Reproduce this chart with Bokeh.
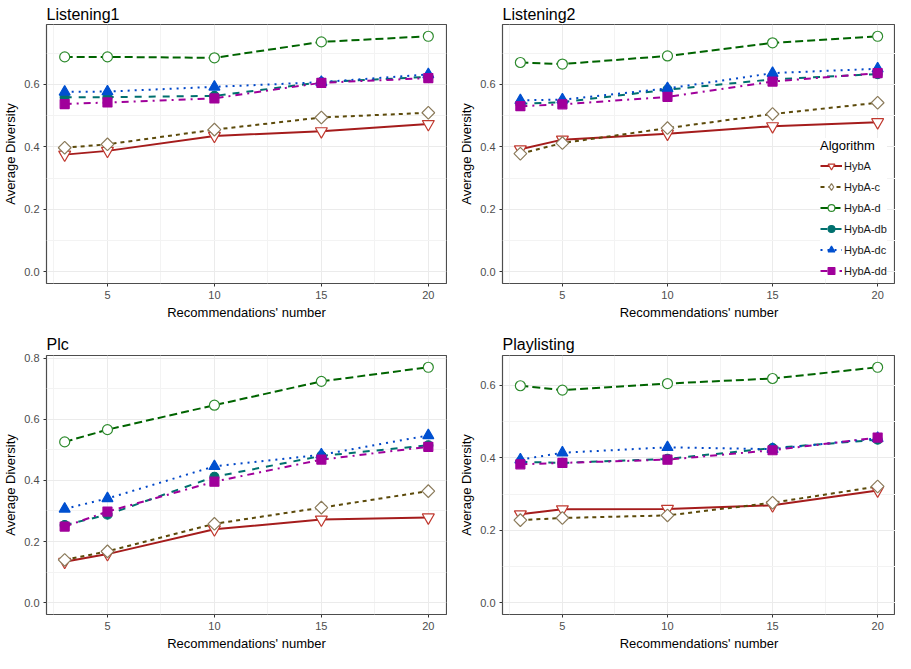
import numpy as np
from bokeh.plotting import figure
from bokeh.layouts import column, row
from bokeh.models import Range1d, FixedTicker, PrintfTickFormatter, Legend, LegendItem
from bokeh.embed import file_html
from bokeh.resources import INLINE

# ---------------- data ----------------
x_vals = [3, 5, 10, 15, 20]
algorithms = ["HybA", "HybA-c", "HybA-d", "HybA-db", "HybA-dc", "HybA-dd"]
panel_titles = ["Listening1", "Listening2", "Plc", "Playlisting"]

x_ticks = [5, 10, 15, 20]
x_minor = [2.5, 7.5, 12.5, 17.5]
y_ticks = [0.0, 0.2, 0.4, 0.6, 0.8]
y_minor = [0.1, 0.3, 0.5, 0.7]

listening1 = {
    "HybA":    [0.375, 0.387, 0.435, 0.450, 0.473],
    "HybA-c":  [0.397, 0.408, 0.455, 0.494, 0.509],
    "HybA-d":  [0.688, 0.688, 0.685, 0.736, 0.754],
    "HybA-db": [0.559, 0.559, 0.563, 0.607, 0.624],
    "HybA-dc": [0.576, 0.577, 0.592, 0.607, 0.632],
    "HybA-dd": [0.537, 0.542, 0.555, 0.605, 0.620],
}
listening2 = {
    "HybA":    [0.392, 0.423, 0.442, 0.466, 0.479],
    "HybA-c":  [0.378, 0.412, 0.460, 0.505, 0.541],
    "HybA-d":  [0.670, 0.665, 0.691, 0.733, 0.754],
    "HybA-db": [0.538, 0.543, 0.583, 0.616, 0.633],
    "HybA-dc": [0.549, 0.551, 0.587, 0.636, 0.650],
    "HybA-dd": [0.530, 0.536, 0.560, 0.609, 0.636],
}
plc = {
    "HybA":    [0.134, 0.159, 0.240, 0.272, 0.279],
    "HybA-c":  [0.140, 0.168, 0.258, 0.311, 0.365],
    "HybA-d":  [0.526, 0.566, 0.646, 0.724, 0.770],
    "HybA-db": [0.254, 0.288, 0.412, 0.480, 0.515],
    "HybA-dc": [0.307, 0.341, 0.446, 0.484, 0.547],
    "HybA-dd": [0.249, 0.298, 0.396, 0.468, 0.510],
}
playlisting = {
    "HybA":    [0.244, 0.258, 0.259, 0.269, 0.310],
    "HybA-c":  [0.228, 0.234, 0.241, 0.276, 0.321],
    "HybA-d":  [0.599, 0.587, 0.605, 0.619, 0.650],
    "HybA-db": [0.389, 0.386, 0.397, 0.427, 0.450],
    "HybA-dc": [0.395, 0.414, 0.429, 0.424, 0.454],
    "HybA-dd": [0.382, 0.386, 0.395, 0.421, 0.456],
}
panels = [listening1, listening2, plc, playlisting]

# ---------------- styles ----------------
FONT = "Liberation Sans"
styles = {
    "HybA":    dict(color="#a51c1c", dash="solid", width=2.0, marker="inverted_triangle", size=12, angle=0.0,
                    mline="#c0392f", fill="white"),
    "HybA-c":  dict(color="#5c4a0a", dash="4 4", width=2.0, marker="square", size=9, angle=np.pi / 4,
                    mline="#8b7b5b", fill="white"),
    "HybA-d":  dict(color="#006400", dash="8 4", width=2.0, marker="circle", size=10, angle=0.0,
                    mline="#2e8b2e", fill="white"),
    "HybA-db": dict(color="#00706e", dash="7 7", width=2.0, marker="circle", size=9, angle=0.0,
                    mline="#00706e", fill="#00706e"),
    "HybA-dc": dict(color="#0047c8", dash="2 5", width=2.0, marker="triangle", size=11, angle=0.0,
                    mline="#0050d0", fill="#0050d0"),
    "HybA-dd": dict(color="#a0009b", dash="7 5 2 5", width=2.0, marker="square", size=9, angle=0.0,
                    mline="#a0009b", fill="#a0009b"),
}

# layout geometry (borders around each frame); whole page fits 895 x 653 inside the 8px margin
geom = [
    dict(w=447, h=322, left=44, right=1, top=24, bottom=35, standoff=3),
    dict(w=448, h=322, left=55, right=0, top=24, bottom=35, standoff=3),
    dict(w=447, h=331, left=44, right=1, top=33, bottom=36, standoff=5),
    dict(w=448, h=331, left=55, right=0, top=33, bottom=36, standoff=5),
]


def make_panel(idx):
    data = panels[idx]
    g = geom[idx]
    lo = 0.0
    hi = max(max(v) for v in data.values())
    pad = 0.05 * (hi - lo)
    xpad = 0.05 * (max(x_vals) - min(x_vals))
    p = figure(width=g["w"], height=g["h"], output_backend="svg", toolbar_location=None,
               x_range=Range1d(min(x_vals) - xpad, max(x_vals) + xpad),
               y_range=Range1d(lo - pad, hi + pad),
               min_border_left=g["left"], min_border_right=g["right"],
               min_border_top=g["top"], min_border_bottom=g["bottom"],
               title=panel_titles[idx])
    p.background_fill_color = "white"
    p.border_fill_color = "white"
    p.outline_line_color = "#4d4d4d"
    p.outline_line_width = 1.2

    p.title.text_font = FONT
    p.title.text_font_size = "16px"
    p.title.text_font_style = "normal"
    p.title.text_color = "#000000"
    p.title.standoff = g["standoff"]
    p.title.offset = 0

    p.xaxis.ticker = FixedTicker(ticks=x_ticks, minor_ticks=x_minor)
    p.yaxis.ticker = FixedTicker(ticks=y_ticks, minor_ticks=y_minor)
    p.yaxis.formatter = PrintfTickFormatter(format="%.1f")
    for ax in (p.xaxis[0], p.yaxis[0]):
        ax.axis_line_color = None
        ax.major_tick_line_color = "#333333"
        ax.major_tick_in = 0
        ax.major_tick_out = 3
        ax.minor_tick_line_color = None
        ax.major_label_text_font = FONT
        ax.major_label_text_font_size = "11px"
        ax.major_label_text_color = "#4d4d4d"
        ax.major_label_standoff = 3
        ax.axis_label_text_font = FONT
        ax.axis_label_text_font_size = "13px"
        ax.axis_label_text_font_style = "normal"
        ax.axis_label_text_color = "#000000"
        ax.axis_label_standoff = 3
    p.xaxis.axis_label = "Recommendations' number"
    p.yaxis.axis_label = "Average Diversity"

    for gr in (p.xgrid[0], p.ygrid[0]):
        gr.grid_line_color = "#ebebeb"
        gr.grid_line_width = 1
        gr.minor_grid_line_color = "#f3f3f3"
        gr.minor_grid_line_width = 1

    lines = {}
    for a in algorithms:
        s = styles[a]
        lines[a] = p.line(x_vals, data[a], line_color=s["color"], line_width=s["width"], line_dash=s["dash"])
    pts = {}
    for a in algorithms:
        s = styles[a]
        pts[a] = p.scatter(x_vals, data[a], marker=s["marker"], size=s["size"], angle=s["angle"],
                           line_color=s["mline"], fill_color=s["fill"], line_width=1.2)

    if idx == 1:
        # legend-only diamond (legend glyphs ignore marker angle)
        s = styles["HybA-c"]
        legend_diamond = p.scatter([np.nan], [np.nan], marker="diamond", size=15,
                                   line_color=s["mline"], fill_color=s["fill"], line_width=1.2)
        items = []
        for a in algorithms:
            mk = legend_diamond if a == "HybA-c" else pts[a]
            items.append(LegendItem(label=a, renderers=[lines[a], mk]))
        leg = Legend(items=items, location=(318, 4), title="Algorithm")
        leg.title_text_font = FONT
        leg.title_text_font_size = "13px"
        leg.title_text_font_style = "normal"
        leg.title_text_color = "#000000"
        leg.title_standoff = 4
        leg.label_text_font = FONT
        leg.label_text_font_size = "11px"
        leg.label_text_color = "#1a1a1a"
        leg.glyph_width = 22
        leg.glyph_height = 17
        leg.label_height = 17
        leg.label_standoff = 2
        leg.spacing = 4
        leg.padding = 5
        leg.margin = 0
        leg.background_fill_color = "white"
        leg.background_fill_alpha = 1.0
        leg.border_line_color = None
        p.add_layout(leg)
    return p


figs = [make_panel(i) for i in range(4)]
layout = column(row(figs[0], figs[1]), row(figs[2], figs[3]))

open("out.html", "w").write(file_html(layout, INLINE))
